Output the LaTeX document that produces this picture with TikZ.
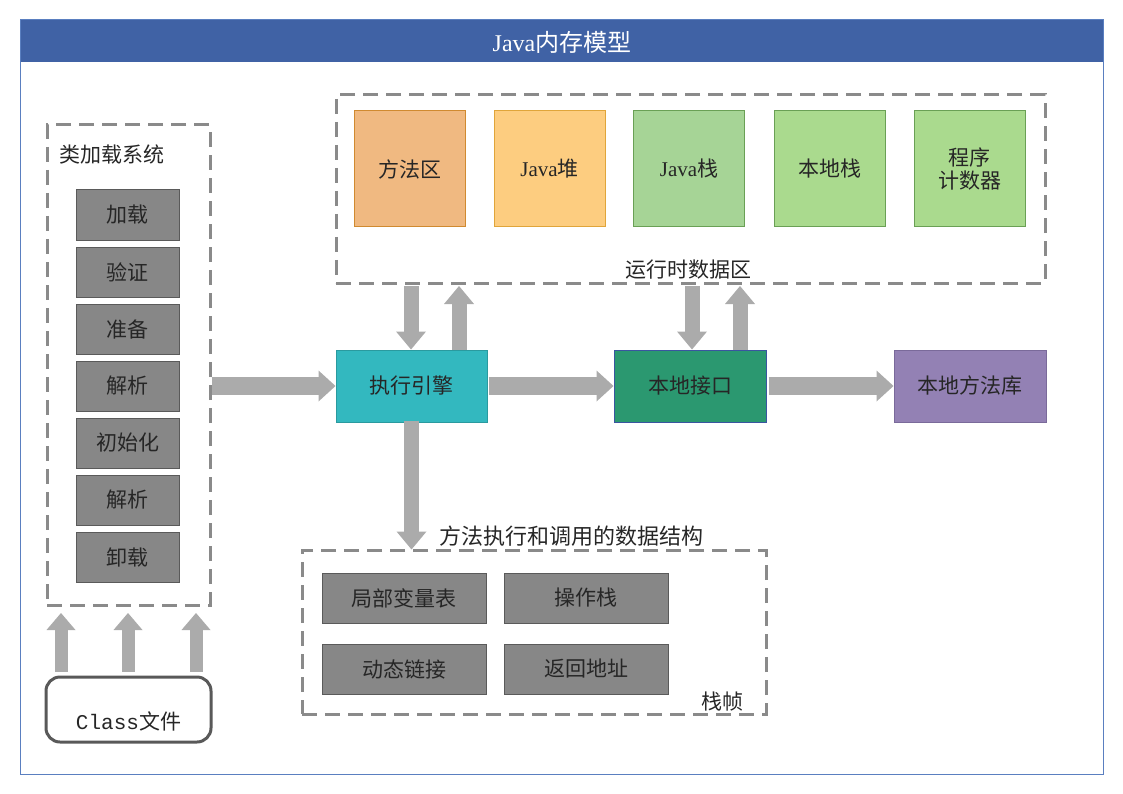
\documentclass[tikz,border=0pt]{standalone}
\usepackage{fontspec}
\setmainfont{Noto Sans CJK SC}
\newfontfamily\latinserif{Liberation Serif}
\newfontfamily\latinmono{Liberation Mono}
\usetikzlibrary{arrows.meta}
\definecolor{headblue}{HTML}{4062A5}
\definecolor{frameblue}{HTML}{5A7FC0}
\definecolor{dashgray}{HTML}{8A8A8A}
\definecolor{boxgray}{HTML}{878787}
\definecolor{boxedge}{HTML}{5A5A5A}
\definecolor{arrowgray}{HTML}{ABABAB}
\definecolor{txt}{HTML}{262626}
\definecolor{methodfill}{HTML}{F0B981}
\definecolor{methodedge}{HTML}{D08A30}
\definecolor{heapfill}{HTML}{FDCD80}
\definecolor{heapedge}{HTML}{E0A53A}
\definecolor{jstackfill}{HTML}{A6D496}
\definecolor{greenedge}{HTML}{6AA055}
\definecolor{nstackfill}{HTML}{AADA8E}
\definecolor{eefill}{HTML}{33B8BF}
\definecolor{eeedge}{HTML}{2A9A9F}
\definecolor{nifill}{HTML}{2B9870}
\definecolor{niedge}{HTML}{3A55A0}
\definecolor{nlfill}{HTML}{9381B4}
\definecolor{nledge}{HTML}{7A6A9A}
\definecolor{cfedge}{HTML}{595959}
\tikzset{
  dashbox/.style={draw=dashgray, line width=3pt, dash pattern=on 15pt off 8pt, minimum width=#1},
  graybox/.style={draw=boxedge, fill=boxgray, line width=1pt, text=txt, font=\fontsize{21}{25}\selectfont, inner sep=0pt},
  areabox/.style={line width=1pt, text=txt, font=\fontsize{21}{25}\selectfont, minimum width=111pt, minimum height=116pt, inner sep=0pt, align=center},
  mainbox/.style={line width=1pt, text=txt, font=\fontsize{21}{25}\selectfont, minimum width=151pt, minimum height=72pt, inner sep=0pt},
  lbl/.style={text=txt, font=\fontsize{21}{25}\selectfont, inner sep=0pt},
  fatH/.style={draw=arrowgray, line width=18pt, -{Triangle[width=31pt,length=17pt,line width=0pt]}},
  fatV/.style={draw=arrowgray, line width=15pt, -{Triangle[width=30pt,length=18pt,line width=0pt]}},
  fatS/.style={draw=arrowgray, line width=13pt, -{Triangle[width=29pt,length=17pt,line width=0pt]}},
}
\begin{document}
\begin{tikzpicture}[x=1pt,y=-1pt]
\useasboundingbox (0,0) rectangle (1123,794);
% frame and header
\fill[headblue] (20,20) rectangle (1103,62);
\draw[frameblue, line width=1pt] (20,20) rectangle (1103,774);
\node[text=white, font=\fontsize{24}{28}\selectfont, inner sep=0pt] (title) at (562,42) {{\latinserif Java}内存模型};

% class loader
\node[dashbox=163pt, minimum height=480pt] (loader) at (128.5,365) {};
\node[lbl] (loaderlbl) at (112,155) {类加载系统};
\foreach \n/\t/\y in {l1/加载/215, l2/验证/272, l3/准备/329, l4/解析/386, l5/初始化/443, l6/解析/500, l7/卸载/557}
  \node[graybox, minimum width=103pt, minimum height=50pt] (\n) at (127.5,\y) {\t};

% class file
\node[draw=cfedge, line width=3pt, rounded corners=14pt, minimum width=165pt, minimum height=65pt] (cf) at (128.5,709.5) {};
\node[lbl] (cftext) at (128.5,721) {{\latinmono Class}文件};
\coordinate (c1) at (61,613);
\coordinate (c2) at (128,613);
\coordinate (c3) at (196,613);
\foreach \c in {c1,c2,c3}
  \draw[fatS] ([yshift=4pt]\c |- cf.north) -- (\c);

% runtime data area
\node[dashbox=709pt, minimum height=188pt] (rt) at (690.5,189) {};
\node[lbl] (rtlbl) at (688,270) {运行时数据区};
\node[areabox, fill=methodfill, draw=methodedge] (ma) at (410,169) {方法区};
\node[areabox, fill=heapfill, draw=heapedge] (heap) at (549.5,169) {{\latinserif Java}堆};
\node[areabox, fill=jstackfill, draw=greenedge] (js) at (689,169) {{\latinserif Java}栈};
\node[areabox, fill=nstackfill, draw=greenedge] (ns) at (829.5,169) {本地栈};
\node[areabox, fill=nstackfill, draw=greenedge] (pc) at (969.5,169) {程序\\[-3pt]计数器};

% main row
\node[mainbox, fill=eefill, draw=eeedge] (ee) at (411.5,386) {执行引擎};
\node[mainbox, fill=nifill, draw=niedge, minimum width=152pt] (ni) at (690,386) {本地接口};
\node[mainbox, fill=nlfill, draw=nledge, minimum width=152pt] (nl) at (970,386) {本地方法库};

\draw[fatH] (loader.east |- ee.center) -- (ee.west);
\draw[fatH] ([xshift=1pt]ee.east) -- (ni.west);
\draw[fatH] ([xshift=2pt]ni.east) -- (nl.west);

\coordinate (d1) at (411,286);
\coordinate (u1) at (459,286);
\coordinate (d2) at (692,286);
\coordinate (u2) at (740,286);
\draw[fatV] (d1) -- (d1 |- ee.north);
\draw[fatV] (u1 |- ee.north) -- (u1);
\draw[fatV] (d2) -- (d2 |- ni.north);
\draw[fatV] (u2 |- ni.north) -- (u2);

% stack frame
\node[dashbox=464pt, minimum height=164pt] (sf) at (534,632) {};
\node[lbl, font=\fontsize{22}{26}\selectfont] (sflbl) at (571,536) {方法执行和调用的数据结构};
\node[lbl] (sfname) at (722,702) {栈帧};
\node[graybox, minimum width=164pt, minimum height=50pt] (lv) at (404,598) {局部变量表};
\node[graybox, minimum width=164pt, minimum height=50pt] (os) at (586,598) {操作栈};
\node[graybox, minimum width=164pt, minimum height=50pt] (dl) at (404,669) {动态链接};
\node[graybox, minimum width=164pt, minimum height=50pt] (ra) at (586,669) {返回地址};
\draw[fatV] ([yshift=2pt]ee.south) -- ([yshift=-1pt]ee.south |- sf.north);
\end{tikzpicture}
\end{document}
